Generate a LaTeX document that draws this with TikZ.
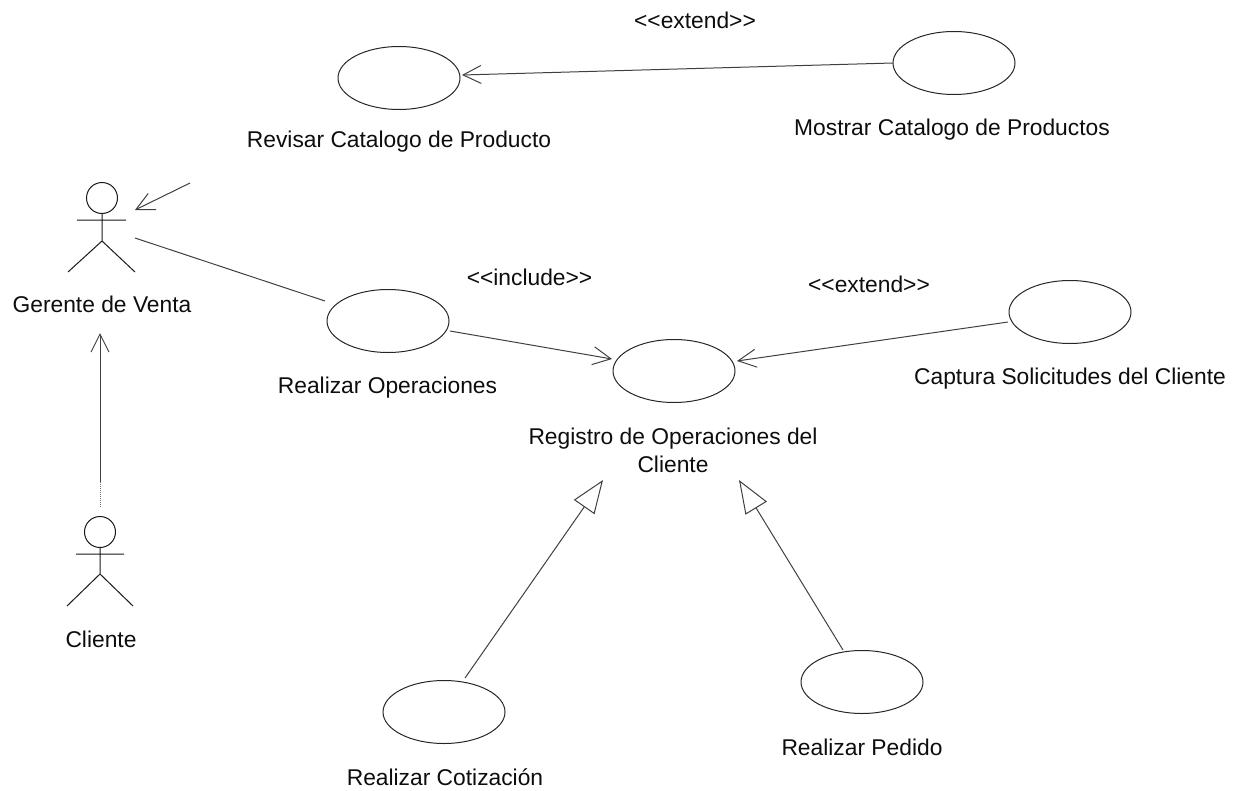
\documentclass[tikz,border=0pt]{standalone}
\usepackage{fontspec}
\setmainfont{Liberation Sans}
\usetikzlibrary{shapes.geometric,arrows.meta}
\tikzset{
 x=1pt,y=-1pt,
 usecase/.style={draw,ellipse,minimum width=122pt,minimum height=63pt,inner sep=0pt,line width=1pt,draw=black!85},
 lbl/.style={font=\fontsize{22.8}{28}\selectfont,align=center,inner sep=0pt,text=black!95},
 conn/.style={line width=1pt,draw=black!75},
 openarrow/.style={conn,-{Straight Barb[length=18pt,width=18pt,line width=1pt]}},
 genarrow/.style={conn,-{Triangle[open,length=33pt,width=25pt,line width=1pt,fill=white]}},
 actorline/.style={line width=1pt,draw=black!90},
}
\begin{document}
\begin{tikzpicture}
\useasboundingbox (0,0) rectangle (1245,790);
% use cases
\node[usecase] (revisar) at (399,78) {};
\node[usecase] (mostrar) at (954,63) {};
\node[usecase] (operar) at (388,321) {};
\node[usecase] (registro) at (674,371) {};
\node[usecase] (captura) at (1070,312) {};
\node[usecase] (cotiza) at (444,712) {};
\node[usecase] (pedido) at (862,682) {};
% labels
\node[lbl] (trevisar) at (399,142) {Revisar Catalogo de Producto};
\node[lbl] (tmostrar) at (952,130) {Mostrar Catalogo de Productos};
\node[lbl] (tgerente) at (102,304) {Gerente de Venta};
\node[lbl] (tcliente) at (101,639) {Cliente};
\node[lbl] (toperar) at (387.5,388) {Realizar Operaciones};
\node[lbl] (tregistro) at (673,450) {Registro de Operaciones del\\Cliente};
\node[lbl] (tcaptura) at (1070,379) {Captura Solicitudes del Cliente};
\node[lbl] (tcotiza) at (445,777) {Realizar Cotización};
\node[lbl] (tpedido) at (862,747) {Realizar Pedido};
\node[lbl] (ext1) at (695,20) {<{}<extend>{}>};
\node[lbl] (incl) at (529.5,277) {<{}<include>{}>};
\node[lbl] (ext2) at (869,284) {<{}<extend>{}>};
% actors
\node[circle,draw,actorline,minimum size=31pt,inner sep=0pt] (gerente) at (102,198) {};
\coordinate (garmL) at (77,220);
\coordinate (garmR) at (126,220);
\coordinate (ghip) at (102,241);
\coordinate (glegL) at (68,272);
\coordinate (glegR) at (135,272);
\draw[actorline] (gerente.south) -- (ghip) -- (glegL) (ghip) -- (glegR) (garmL) -- (garmR);
\node[circle,draw,actorline,minimum size=31pt,inner sep=0pt] (cliente) at (100,532) {};
\coordinate (carmL) at (76,554);
\coordinate (carmR) at (124,554);
\coordinate (chip) at (100,574);
\coordinate (clegL) at (67,606);
\coordinate (clegR) at (133,606);
\draw[actorline] (cliente.south) -- (chip) -- (clegL) (chip) -- (clegR) (carmL) -- (carmR);
% connector ends
\coordinate (a1s) at (190,183);
\coordinate (a1e) at (135,210);
\coordinate (a2s) at (135,238);
\coordinate (a2e) at (325,301);
\coordinate (a3s) at (100,482);
\coordinate (a3d) at (100,508);
\coordinate (a3e) at (100,333);
\coordinate (a4s) at (450,331);
\coordinate (a4e) at (612,359);
\coordinate (a5s) at (1008,322);
\coordinate (a5e) at (737,361);
\coordinate (a6s) at (893,63);
\coordinate (a6e) at (462,75);
\coordinate (a7s) at (465,678);
\coordinate (a7e) at (603,480);
\coordinate (a8s) at (843,650);
\coordinate (a8e) at (739,480);
% connectors
\draw[openarrow] (a1s) -- (a1e);
\draw[conn] (a2s) -- (a2e);
\draw[openarrow] (a3s) -- (a3e);
\draw[conn,densely dotted,draw=black!55] (a3s) -- (a3d);
\draw[openarrow] (a4s) -- (a4e);
\draw[openarrow] (a5s) -- (a5e);
\draw[openarrow] (a6s) -- (a6e);
\draw[genarrow] (a7s) -- (a7e);
\draw[genarrow] (a8s) -- (a8e);
\end{tikzpicture}
\end{document}
